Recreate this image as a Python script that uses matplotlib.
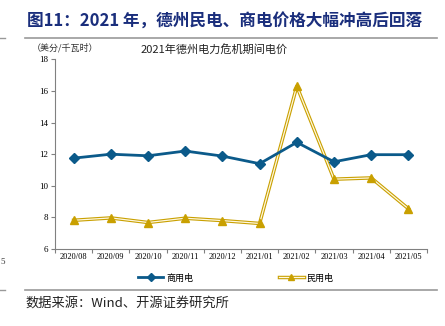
import matplotlib
matplotlib.use('Agg')
import matplotlib.pyplot as plt
import matplotlib.patheffects as pe
from matplotlib.lines import Line2D
import numpy as np

months = ['2020/08', '2020/09', '2020/10', '2020/11', '2020/12',
          '2021/01', '2021/02', '2021/03', '2021/04', '2021/05']
commercial = [11.75, 12.0, 11.9, 12.2, 11.88, 11.4, 12.75, 11.52, 11.97, 11.97]
residential = [7.82, 7.97, 7.68, 7.95, 7.8, 7.62, 16.3, 10.42, 10.5, 8.55]

blue = '#0b5a8a'
gold = '#c9a000'
cjk = ['Noto Sans CJK SC', 'DejaVu Sans']
serif = ['Liberation Serif', 'DejaVu Serif']
double = [pe.Stroke(linewidth=2.5, foreground=gold), pe.Stroke(linewidth=0.9, foreground='#fff8e0')]

fig = plt.figure(figsize=(4.45, 3.26), dpi=100)
ax = fig.add_axes([0.1236, 0.236, 0.836, 0.582])

x = np.arange(len(months))
ax.plot(x, commercial, color=blue, lw=2.0, marker='D', ms=4.8, zorder=3)
# double line for residential, markers drawn separately
ax.plot(x, residential, color='white', lw=0.9, zorder=2, path_effects=double)
ax.plot(x, residential, color=gold, lw=0, marker='^', ms=6, zorder=2.5)

ax.set_xlim(-0.5, len(months) - 0.5)
ax.set_ylim(6, 18)
ax.set_yticks(range(6, 19, 2))
ax.set_xticks(np.arange(-0.5, len(months), 1))
ax.set_xticklabels([])
ax.set_xticks(x, minor=True)
ax.set_xticklabels(months, minor=True, fontsize=6, family=serif)
ax.tick_params(axis='x', which='minor', length=0, pad=3)
ax.tick_params(axis='x', which='major', length=3, color='#808080')
ax.tick_params(axis='y', length=3, color='#808080', labelsize=6.5, pad=2)
for t in ax.get_yticklabels():
    t.set_family(serif)
for s in ['top', 'right']:
    ax.spines[s].set_visible(False)
ax.spines['left'].set_color('#808080')
ax.spines['bottom'].set_color('#808080')

# chart title and unit
fig.text(0.072, 0.853, '（美分/千瓦时）', fontsize=6.5, family=cjk, color='#333333', va='center')
fig.text(0.315, 0.848, '2021年德州电力危机期间电价', fontsize=8, family=cjk, color='#222222', va='center')

# legend
h1 = Line2D([], [], color=blue, lw=2.0, marker='D', ms=4)
h2a = Line2D([], [], color='white', lw=0.9, path_effects=double)
h2b = Line2D([], [], color=gold, lw=0, marker='^', ms=5)
leg = fig.legend([h1, (h2a, h2b)], ['商用电', '民用电'], loc='center', bbox_to_anchor=(0.53, 0.147), ncol=2,
                 frameon=False, prop={'family': cjk, 'size': 6.5}, columnspacing=9.5, handlelength=2.8, handletextpad=0.3)

# header title and rules
fig.text(0.06, 0.935, '图11：2021 年，德州民电、商电价格大幅冲高后回落', fontsize=12, fontweight='bold',
         family=cjk, color='#1a2e7c', va='center')
fig.add_artist(Line2D([0.056, 0.982], [0.883, 0.883], color='#999999', lw=1.2))
fig.add_artist(Line2D([0.056, 0.982], [0.11, 0.11], color='#999999', lw=1.2))
fig.add_artist(Line2D([0.0, 0.012], [0.883, 0.883], color='#999999', lw=1.0))
fig.add_artist(Line2D([0.0, 0.012], [0.11, 0.11], color='#999999', lw=1.0))
fig.text(0.0, 0.196, '5', fontsize=6.5, family=serif, color='#333333', va='center')

fig.text(0.058, 0.07, '数据来源：Wind、开源证券研究所', fontsize=9.5, family=cjk, color='#222222', va='center')

fig.savefig('out.png', dpi=100)
